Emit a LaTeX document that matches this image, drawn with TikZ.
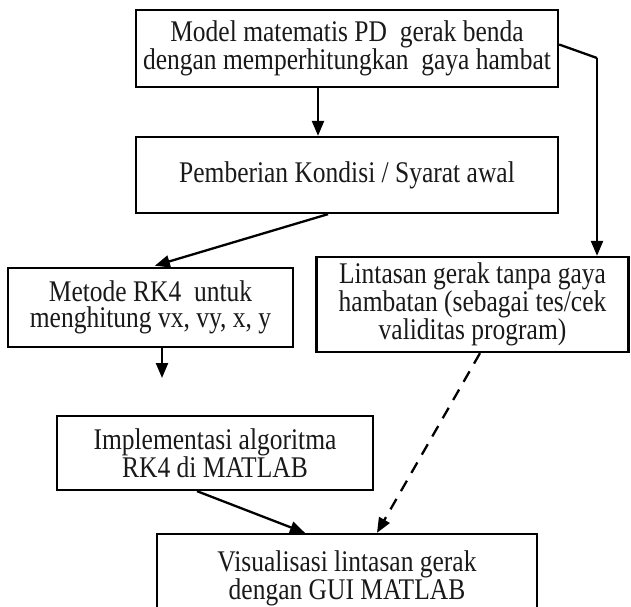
\documentclass[tikz,border=0pt]{standalone}
\usepackage{fontspec}
\setmainfont{Liberation Serif}[FakeStretch=0.85]
\usetikzlibrary{arrows.meta}
\begin{document}
\begin{tikzpicture}[x=1pt,y=-1pt,
  box/.style={draw, line width=2.3pt, rectangle, inner sep=0pt, align=center,
    font=\fontsize{30}{26}\selectfont, text=black!90},
  conn/.style={line width=2.3pt, -{Triangle[length=15pt,width=12pt]}},
  dashconn/.style={conn, dash pattern=on 12pt off 9pt}]
\useasboundingbox (0,0) rectangle (631,606);
\begin{scope}
\clip (0,0) rectangle (631,606);
\node[box, minimum width=422pt, minimum height=77pt] (top) at (347,48.5)
  {Model matematis PD\ \ gerak benda\\dengan memperhitungkan\ \ gaya hambat};
\node[box, minimum width=422pt, minimum height=76pt] (pem) at (347,175)
  {Pemberian Kondisi / Syarat awal};
\node[box, minimum width=285pt, minimum height=79pt] (met) at (150.5,307.5)
  {Metode RK4\ \ untuk\\menghitung vx, vy, x, y};
\node[box, minimum width=312pt, minimum height=95pt] (lin) at (472.5,304.5)
  {Lintasan gerak tanpa gaya\\hambatan (sebagai tes/cek\\validitas program)};
\node[box, minimum width=316pt, minimum height=74pt] (imp) at (215,453)
  {Implementasi algoritma\\RK4 di MATLAB};
\node[box, minimum width=380pt, minimum height=88pt] (vis) at (347,578)
  {Visualisasi lintasan gerak\\dengan GUI MATLAB};
\coordinate (bend) at (597,58);
\coordinate (metend) at (162,378);
\draw[conn] ([xshift=-29pt]top.south) -- ([xshift=-29pt]top.south |- pem.north);
\draw[line width=2.3pt, line join=miter] ([yshift=4pt]top.east) -- (bend);
\draw[conn] (bend) -- (bend |- lin.north);
\draw[conn, shorten >=4pt] ([xshift=-19pt]pem.south) -- ([xshift=-62pt]met.north -| 213,0);
\draw[conn] (met.south -| metend) -- (metend);
\draw[conn] ([xshift=-18pt]imp.south) -- ([xshift=-42pt]vis.north);
\draw[dashconn] ([xshift=7.5pt]lin.south) -- ([xshift=30pt]vis.north);
\end{scope}
\end{tikzpicture}
\end{document}
